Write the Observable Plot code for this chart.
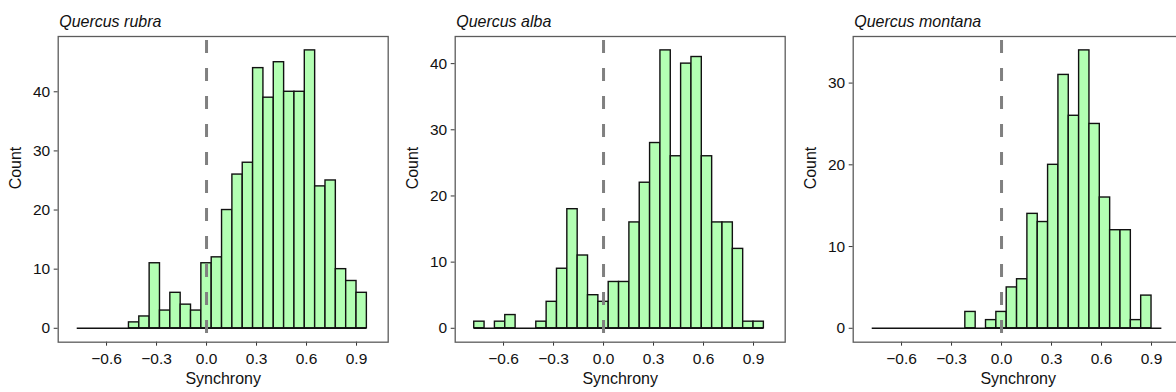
<!DOCTYPE html>
<html><head><meta charset="utf-8">
<script src="https://cdn.jsdelivr.net/npm/d3@7"></script>
<script src="https://cdn.jsdelivr.net/npm/@observablehq/plot@0.6"></script>
<style>
body{margin:0;background:#fff;}
#wrap{position:relative;width:1176px;height:392px;overflow:hidden;background:#fff;}
#wrap svg{position:absolute;top:0;}
</style></head><body><div id="wrap"></div>
<script>
const species = ["Quercus rubra", "Quercus alba", "Quercus montana"];
const xLimits = [-0.8, 1.0];
const binWidth = 1.8 / 29;
const binIndex = [-12,-11,-10,-9,-8,-7,-6,-5,-4,-3,-2,-1,0,1,2,3,4,5,6,7,8,9,10,11,12,13,14,15];
const rubraCounts   = [0,0,0,0,0,1,2,11,3,6,4,3,11,12,20,26,28,44,39,45,40,40,47,24,25,10,8,6];
const albaCounts    = [1,0,1,2,0,0,1,4,9,18,11,5,4,7,7,16,22,28,42,26,40,41,26,16,16,12,1,1];
const montanaCounts = [0,0,0,0,0,0,0,0,0,2,0,1,2,5,6,14,13,20,31,26,34,25,16,12,12,1,4,0];
const xTicks = [-0.6, -0.3, 0.0, 0.3, 0.6, 0.9];
const yTicks = [[0,10,20,30,40],[0,10,20,30,40],[0,10,20,30]];
const xTitle = "Synchrony";
const yTitle = "Count";

const allCounts = [rubraCounts, albaCounts, montanaCounts];
const panelW = 397.3, H = 392;
const mL = 57.7, mR = 9.6, mT = 36, mB = 50.3;
const font = "'Liberation Sans', Arial, Helvetica, sans-serif";
const wrap = document.getElementById("wrap");

allCounts.forEach((counts, i) => {
  const bins = binIndex.map((k, j) => ({x1: (k - 0.5) * binWidth, x2: (k + 0.5) * binWidth, count: counts[j]}));
  const maxC = d3.max(counts);
  const xr = xLimits[1] - xLimits[0];
  const chart = Plot.plot({
    width: panelW, height: H,
    marginLeft: mL, marginRight: mR, marginTop: mT, marginBottom: mB,
    style: {fontFamily: font, background: "transparent", color: "#111", overflow: "visible"},
    x: {domain: [xLimits[0] - 0.05 * xr, xLimits[1] + 0.05 * xr]},
    y: {domain: [-0.05 * maxC, 1.05 * maxC]},
    marks: [
      Plot.rectY(bins.filter(d => d.count > 0), {x1: "x1", x2: "x2", y1: 0, y2: "count", fill: "#b3ffb3", stroke: "#111", strokeWidth: 1.4}),
      Plot.ruleY([0], {x1: bins[0].x1, x2: bins[bins.length - 1].x2, stroke: "#111", strokeWidth: 1.4}),
      Plot.ruleX([0], {stroke: "#808080", strokeWidth: 3, strokeDasharray: "13,15", strokeDashoffset: 24}),
      Plot.axisX({ticks: xTicks, tickFormat: d3.format(".1f"), tickSize: 4, tickPadding: 7, fontSize: 15.5, stroke: "#333", fill: "#111", label: null}),
      Plot.axisY({ticks: yTicks[i], tickSize: 4, tickPadding: 4, fontSize: 15.5, stroke: "#333", fill: "#111", label: null}),
      Plot.text([xTitle], {frameAnchor: "bottom", dy: 42, text: d => d, fontSize: 16, fill: "#111"}),
      Plot.text([yTitle], {frameAnchor: "left", dx: -42, rotate: -90, text: d => d, fontSize: 16, fill: "#111"}),
      Plot.text([species[i]], {frameAnchor: "top-left", dx: 1, dy: -21, text: d => d, textAnchor: "start", fontStyle: "italic", fontSize: 16, fill: "#111"}),
      Plot.frame({stroke: "#5c5c5c", strokeWidth: 1.3})
    ]
  });
  chart.style.left = (i * panelW) + "px";
  wrap.appendChild(chart);
});
</script></body></html>
